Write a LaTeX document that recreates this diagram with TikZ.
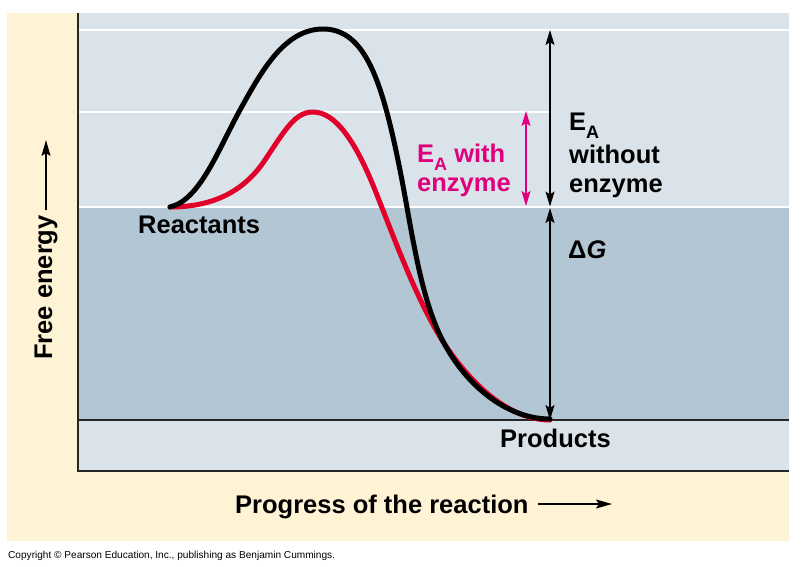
\documentclass[tikz,border=0pt]{standalone}
\usepackage{fontspec}
\setmainfont{Liberation Sans}
\usetikzlibrary{arrows.meta}
\definecolor{cream}{RGB}{255,243,214}
\definecolor{lightpanel}{RGB}{217,227,233}
\definecolor{darkpanel}{RGB}{178,198,211}
\definecolor{enzred}{RGB}{226,0,42}
\definecolor{enzmag}{RGB}{224,0,125}
\newcommand{\subAx}{\raisebox{-8pt}[0pt][0pt]{\fontsize{18}{18}\selectfont A}}
\begin{document}
\begin{tikzpicture}[x=1pt,y=-1pt,
  lbl/.style={font=\bfseries\fontsize{25.5}{29}\selectfont, inner sep=0pt, anchor=base west},
  dimarrow/.style={line width=1.3pt, {Stealth[length=15pt,width=9pt,inset=3pt]}-{Stealth[length=15pt,width=9pt,inset=3pt]}},
  axarrow/.style={line width=1.3pt, -{Stealth[length=16pt,width=9pt,inset=3pt]}},
  curve/.style={line width=5pt, line cap=round, line join=round},
  gridline/.style={white, line width=1.5pt}]
\useasboundingbox (0,0) rectangle (801,566);
% backgrounds
\fill[cream] (7,13) rectangle (789,541);
\fill[lightpanel] (78,13) rectangle (789,471);
\fill[darkpanel] (78,207) rectangle (789,420);
\draw[gridline] (78,30) -- (789,30);
\draw[gridline] (78,112) -- (551,112);
\draw[gridline] (78,207) -- (789,207);
\draw[black!85, line width=2pt] (78,420) -- (789,420);
\draw[black!85, line width=2.5pt] (78,13) -- (78,471) -- (789,471);
% curves
\draw[curve, enzred] (170,207) .. controls (215,207) and (245,190) .. (265,160)
  .. controls (285,130) and (295,112) .. (313,112)
  .. controls (335,112) and (355,140) .. (375,190)
  .. controls (395,240) and (420,310) .. (450,352)
  .. controls (480,394) and (515,420) .. (550,420);
\draw[curve, black] (170,207) .. controls (200,200) and (218,150) .. (240,110)
  .. controls (262,70) and (285,29) .. (323,29)
  .. controls (365,29) and (382,80) .. (400,170)
  .. controls (412,230) and (420,300) .. (445,345)
  .. controls (470,390) and (510,419) .. (550,419);
% arrows
\coordinate (eaTop) at (550,30);
\coordinate (eaBot) at (550,206.5);
\coordinate (dgTop) at (550,208);
\coordinate (dgBot) at (550,420);
\coordinate (ewTop) at (526,111);
\coordinate (ewBot) at (526,206);
\draw[dimarrow] (eaTop) -- (eaBot);
\draw[dimarrow] (dgTop) -- (dgBot);
\draw[dimarrow, enzmag] (ewTop) -- (ewBot);
% labels
\node[lbl] (react) at (138,233) {Reactants};
\node[lbl] (prod) at (500,447) {Products};
\node[lbl] (ea1) at (569,130) {E\subAx};
\node[lbl] (ea2) at (569,163) {without};
\node[lbl] (ea3) at (569,192) {enzyme};
\node[lbl, text=enzmag] (ew1) at (417,162) {E\subAx{} with};
\node[lbl, text=enzmag] (ew2) at (417,191) {enzyme};
\node[lbl] (dg) at (568,258) {Δ\textit{G}};
\node[lbl, rotate=90] (fe) at (52,360) {Free energy};
\node[lbl] (prog) at (235,513) {Progress of the reaction};
\coordinate (feA) at (46,210);
\coordinate (feB) at (46,140);
\coordinate (prA) at (538,504);
\coordinate (prB) at (612,504);
\draw[axarrow] (feA) -- (feB);
\draw[axarrow] (prA) -- (prB);
\node[font=\fontsize{10.1}{11}\selectfont, inner sep=0pt, anchor=base west] (copy) at (8,558) {Copyright © Pearson Education, Inc., publishing as Benjamin Cummings.};
\end{tikzpicture}
\end{document}
